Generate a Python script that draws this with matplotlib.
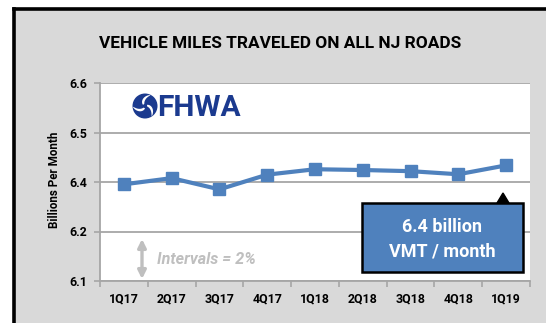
import numpy as np
import matplotlib
matplotlib.use("Agg")
import matplotlib.pyplot as plt
from matplotlib.patches import Rectangle, Circle, Polygon

# Quarterly vehicle miles traveled, billions per month
quarters = ["1Q17", "2Q17", "3Q17", "4Q17", "1Q18", "2Q18", "3Q18", "4Q18", "1Q19"]
vmt = [6.350, 6.366, 6.337, 6.375, 6.389, 6.387, 6.384, 6.376, 6.399]

# Axis runs from 6.1 in steps of 2% of 6.4 billion
y_min = 6.1
y_step = 0.128
n_steps = 4

title = "VEHICLE MILES TRAVELED ON ALL NJ ROADS"
y_label = "Billions Per Month"
callout_lines = ["6.4 billion", "VMT / month"]
interval_note = "Intervals = 2%"

W, H = 546, 323
BLUE = "#4f81bd"
GRID = "#a6a6a6"
BG = "#d9d9d9"
NAVY = "#1b3a8f"
FONT = ["Roboto", "DejaVu Sans"]

plt.rcParams["font.family"] = FONT
plt.rcParams["font.weight"] = "bold"

fig = plt.figure(figsize=(W / 100, H / 100), dpi=100)
fig.patch.set_facecolor("white")

# Pixel-space background layer (gray panel with black frame on left/top)
bg = fig.add_axes([0, 0, 1, 1], zorder=0)
bg.set_xlim(0, W)
bg.set_ylim(H, 0)
bg.axis("off")
bg.add_patch(Rectangle((13.5, 8.5), W, H, facecolor=BG, edgecolor="none"))
bg.plot([13.5, 13.5], [8.5, H + 2], color="black", lw=2.6, solid_capstyle="projecting")
bg.plot([13.5, W + 2], [8.5, 8.5], color="black", lw=2.6, solid_capstyle="projecting")

# Main chart
px_l, px_r, px_t, px_b = 100, 530, 83, 281
ax = fig.add_axes([px_l / W, 1 - px_b / H, (px_r - px_l) / W, (px_b - px_t) / H], zorder=1)
ax.set_facecolor("white")

x = np.arange(len(quarters))
ax.plot(x, vmt, color=BLUE, lw=3.0, marker="s", markersize=9.2,
        markerfacecolor=BLUE, markeredgecolor=BLUE, zorder=3)

yticks = [y_min + y_step * k for k in range(n_steps + 1)]
ax.set_ylim(yticks[0], yticks[-1])
ax.set_yticks(yticks)
ax.set_yticklabels([f"{v:.1f}" for v in yticks])
ax.yaxis.grid(True, color=GRID, lw=1.3)
ax.set_axisbelow(True)

ax.set_xlim(-0.5, len(quarters) - 0.5)
ax.set_xticks(np.arange(-0.5, len(quarters), 1.0))
ax.set_xticklabels([])
ax.set_xticks(x, minor=True)
ax.set_xticklabels(quarters, minor=True)
ax.tick_params(axis="x", which="major", length=4, color=GRID, width=1.2, direction="out")
ax.tick_params(axis="x", which="minor", length=0, pad=8, labelsize=8.9)
ax.tick_params(axis="y", length=4, color=GRID, width=1.2, pad=5, labelsize=8.9)

for s in ["top", "right"]:
    ax.spines[s].set_visible(False)
for s in ["left", "bottom"]:
    ax.spines[s].set_color(GRID)
    ax.spines[s].set_linewidth(1.3)

# Overlay layer in pixel coordinates for texts and annotations
ov = fig.add_axes([0, 0, 1, 1], zorder=2)
ov.set_xlim(0, W)
ov.set_ylim(H, 0)
ov.axis("off")
ov.patch.set_alpha(0)

ov.text(280, 44, title, ha="center", va="center", fontsize=12.4, fontweight="bold", color="black")
ov.text(55, 180, y_label, ha="center", va="center", rotation=90, fontsize=8.4,
        fontweight="bold", color="black")

# FHWA logo: navy disc with white tri-blade swirl, then wordmark
cx, cy, R = 145, 106, 12.5
ov.add_patch(Circle((cx, cy), R, facecolor=NAVY, edgecolor="none"))
t = np.linspace(0, 1, 30)
for k in range(3):
    a0 = np.deg2rad(90 + 120 * k)
    r = R * (0.18 + 0.8 * t)
    a1 = a0 + 1.5 * t
    a2 = a1 + 0.75 * (1 - t) ** 0.8
    pts = np.vstack([
        np.column_stack([cx + r * np.cos(a1), cy + r * np.sin(a1)]),
        np.column_stack([cx + r[::-1] * np.cos(a2[::-1]), cy + r[::-1] * np.sin(a2[::-1])]),
    ])
    ov.add_patch(Polygon(pts, closed=True, facecolor="white", edgecolor="none"))
ov.text(157.5, 108, "FHWA", ha="left", va="center", fontsize=21.5, fontweight="bold",
        color=NAVY, family=["Roboto", "DejaVu Sans"])

# Interval note
ov.annotate("", xy=(142, 239), xytext=(142, 279),
            arrowprops=dict(arrowstyle="<|-|>", color="#bfbfbf", lw=2.4, mutation_scale=12,
                            shrinkA=0, shrinkB=0))
ov.text(157, 260, interval_note, ha="left", va="center", fontsize=11.6, fontweight="bold",
        style="italic", color="#bfbfbf")

# Callout box for the latest quarter
bx0, bx1, by0, by1 = 362, 523, 203, 272
ov.add_patch(Polygon([(497, by0), (503, 193), (509, by0)], closed=True,
                     facecolor="black", edgecolor="black", lw=1))
ov.add_patch(Rectangle((bx0, by0), bx1 - bx0, by1 - by0, facecolor=BLUE,
                       edgecolor="black", lw=1.8))
ov.text((bx0 + bx1) / 2, 227, callout_lines[0], ha="center", va="center",
        fontsize=13, fontweight="bold", color="white")
ov.text((bx0 + bx1) / 2, 251, callout_lines[1], ha="center", va="center",
        fontsize=13, fontweight="bold", color="white")

fig.savefig("out.png", dpi=100)
